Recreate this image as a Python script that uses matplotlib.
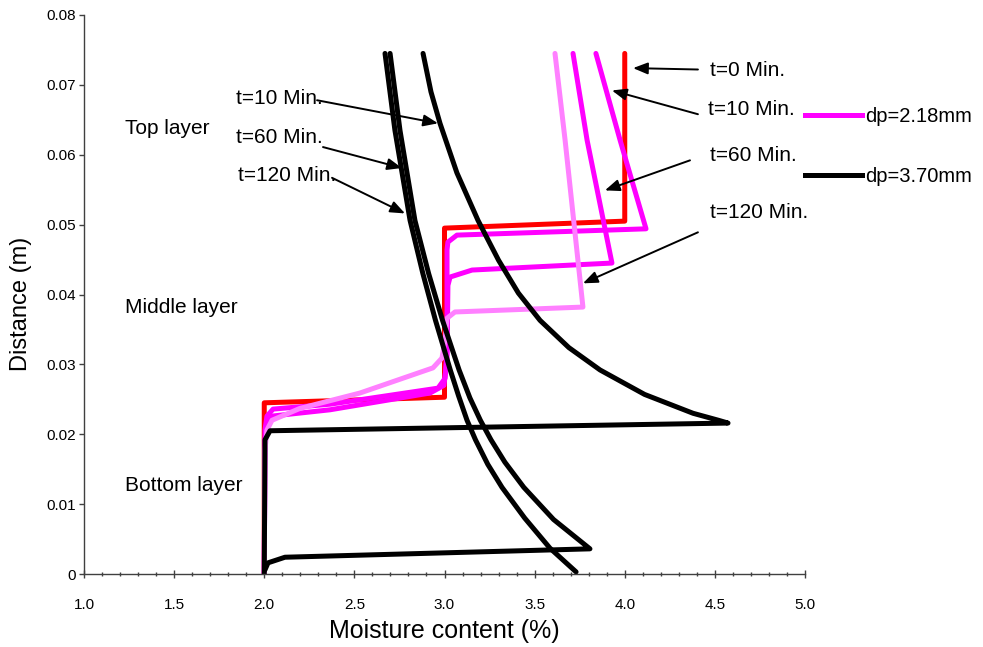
import matplotlib
matplotlib.use("Agg")
import matplotlib.pyplot as plt
from matplotlib import font_manager
from matplotlib.ticker import MultipleLocator

plt.rcParams['font.family'] = ['Liberation Sans', 'DejaVu Sans']

# moisture profiles, dp=2.18mm (x = moisture %, y = distance m)
t0_x = [4.0, 4.0, 3.0, 3.0, 2.0, 2.0]
t0_y = [0.0745, 0.0505, 0.0495, 0.0253, 0.0245, 0.0]

small_t10_x = [3.840, 3.974, 4.118, 3.069, 3.019, 3.014, 3.014, 3.003, 2.964, 2.365, 2.049, 2.015, 2.004, 2.0]
small_t10_y = [0.0745, 0.0621, 0.0494, 0.0485, 0.0475, 0.0464, 0.0320, 0.0280, 0.0266, 0.0243, 0.0236, 0.0226, 0.0206, 0.0]

small_t60_x = [3.713, 3.791, 3.929, 3.153, 3.031, 3.019, 3.014, 2.997, 2.920, 2.365, 2.043, 2.015, 2.004, 2.0]
small_t60_y = [0.0745, 0.0621, 0.0445, 0.0435, 0.0425, 0.0413, 0.0306, 0.0270, 0.0259, 0.0235, 0.0226, 0.0213, 0.0192, 0.0]

small_t120_x = [3.613, 3.669, 3.768, 3.058, 3.014, 3.003, 2.986, 2.936, 2.531, 2.198, 2.043, 2.015, 2.004, 2.0]
small_t120_y = [0.0745, 0.0621, 0.0382, 0.0375, 0.0366, 0.0335, 0.0309, 0.0295, 0.0259, 0.0237, 0.0220, 0.0206, 0.0177, 0.0]

# moisture profiles, dp=3.70mm
big_t10_x = [2.881, 2.925, 2.975, 3.069, 3.186, 3.300, 3.410, 3.530, 3.690, 3.863, 4.110, 4.379, 4.520, 4.573,
             2.032, 2.004, 2.0]
big_t10_y = [0.0745, 0.0690, 0.0645, 0.0574, 0.0506, 0.0449, 0.0402, 0.0363, 0.0324, 0.0292, 0.0257, 0.0230, 0.0220, 0.0216,
             0.0205, 0.0192, 0.0]

big_t60_x = [2.698, 2.753, 2.836, 2.912, 2.989, 3.081, 3.141, 3.199, 3.258, 3.335, 3.440, 3.605, 3.807,
             2.115, 2.021, 2.004]
big_t60_y = [0.0745, 0.0635, 0.0506, 0.0430, 0.0363, 0.0292, 0.0252, 0.0220, 0.0192, 0.0160, 0.0124, 0.0078, 0.0036,
             0.0024, 0.0016, 0.0006]

big_t120_x = [2.670, 2.725, 2.809, 2.880, 2.950, 3.032, 3.078, 3.125, 3.172, 3.240, 3.319, 3.445, 3.585, 3.730]
big_t120_y = [0.0745, 0.0635, 0.0506, 0.0430, 0.0363, 0.0292, 0.0255, 0.0220, 0.0192, 0.0157, 0.0124, 0.0080, 0.0037, 0.0003]

x_ticks = [1.0, 1.5, 2.0, 2.5, 3.0, 3.5, 4.0, 4.5, 5.0]
y_ticks = [0, 0.01, 0.02, 0.03, 0.04, 0.05, 0.06, 0.07, 0.08]
y_ticklabels = ["0", "0.01", "0.02", "0.03", "0.04", "0.05", "0.06", "0.07", "0.08"]

# condensed face for the axis titles if it is around
try:
    font_manager.findfont("Liberation Sans Narrow", fallback_to_default=False)
    xtitle_font = dict(family="Liberation Sans Narrow", size=22)
    ytitle_font = dict(family="Liberation Sans Narrow", size=20)
except ValueError:
    xtitle_font = dict(family="Liberation Sans", size=18)
    ytitle_font = dict(family="Liberation Sans", size=17)

fig = plt.figure(figsize=(9.83, 6.47), dpi=100)
ax = fig.add_axes([84 / 983, 1 - 574 / 647, 721 / 983, 559 / 647])

lw = 3.6
style = dict(lw=lw, solid_joinstyle="round", solid_capstyle="round")

ax.plot(t0_x, t0_y, color="#ff0000", **style)
ax.plot(small_t10_x, small_t10_y, color="#ff00ff", **style)
ax.plot(small_t60_x, small_t60_y, color="#ff00ff", **style)
ax.plot(small_t120_x, small_t120_y, color="#ff80ff", **style)
ax.plot(big_t10_x, big_t10_y, color="black", **style)
ax.plot(big_t60_x, big_t60_y, color="black", **style)
ax.plot(big_t120_x, big_t120_y, color="black", **style)

ax.set_xlim(1.0, 5.0)
ax.set_ylim(0, 0.08)
ax.set_xticks(x_ticks)
ax.set_xticklabels([f"{v:.1f}" for v in x_ticks])
ax.xaxis.set_minor_locator(MultipleLocator(0.1))
ax.set_yticks(y_ticks)
ax.set_yticklabels(y_ticklabels)

for side in ["top", "right"]:
    ax.spines[side].set_visible(False)
for side in ["left", "bottom"]:
    ax.spines[side].set_color("#404040")
    ax.spines[side].set_linewidth(1.0)

ax.tick_params(axis="x", which="major", direction="inout", length=6, width=1,
               color="#404040", labelsize=11, pad=14)
ax.tick_params(axis="x", which="minor", direction="inout", length=3.5, width=1,
               color="#404040")
ax.tick_params(axis="y", which="major", direction="out", length=3.5, width=1,
               color="#404040", labelsize=11, pad=2)

ax.set_xlabel("Moisture content (%)", **xtitle_font)
ax.set_ylabel("Distance (m)", **ytitle_font)
ax.xaxis.set_label_coords(0.5, -0.08)
ax.yaxis.set_label_coords(-0.072, 0.483)

# layer names
for txt, ty in [("Top layer", 0.0638), ("Middle layer", 0.0382), ("Bottom layer", 0.0127)]:
    ax.text(1.225, ty, txt, fontsize=15, va="center", ha="left")

arrow = dict(arrowstyle="-|>,head_length=0.55,head_width=0.22", lw=1.4,
             color="black", shrinkA=0, shrinkB=0, mutation_scale=16)

# time labels, right group (dp=2.18mm)
right_labels = [
    ("t=0 Min.", (4.473, 0.0721), (4.406, 0.0722), (4.046, 0.0724)),
    ("t=10 Min.", (4.462, 0.0665), (4.406, 0.0658), (3.929, 0.0692)),
    ("t=60 Min.", (4.473, 0.0599), (4.362, 0.0592), (3.890, 0.0549)),
    ("t=120 Min.", (4.473, 0.0518), (4.406, 0.0489), (3.768, 0.0416)),
]
# time labels, left group (dp=3.70mm)
left_labels = [
    ("t=10 Min.", (1.843, 0.0681), (2.293, 0.0678), (2.964, 0.0645)),
    ("t=60 Min.", (1.843, 0.0624), (2.326, 0.0611), (2.764, 0.0581)),
    ("t=120 Min.", (1.854, 0.0571), (2.376, 0.0567), (2.781, 0.0516)),
]
for txt, tpos, tail, head in right_labels + left_labels:
    ax.text(tpos[0], tpos[1], txt, fontsize=15, va="center", ha="left")
    ax.annotate("", xy=head, xytext=tail, arrowprops=arrow)

h1, = ax.plot([], [], color="#ff00ff", lw=lw)
h2, = ax.plot([], [], color="black", lw=lw)
leg = ax.legend([h1, h2], ["dp=2.18mm", "dp=3.70mm"], loc="upper left",
                bbox_to_anchor=(805 / 983, 1 - 107 / 647),
                bbox_transform=fig.transFigure, frameon=False, fontsize=14.5,
                handlelength=2.85, handletextpad=0.15, labelspacing=2.05,
                borderpad=0, borderaxespad=0)

fig.savefig("out.png", dpi=100)
